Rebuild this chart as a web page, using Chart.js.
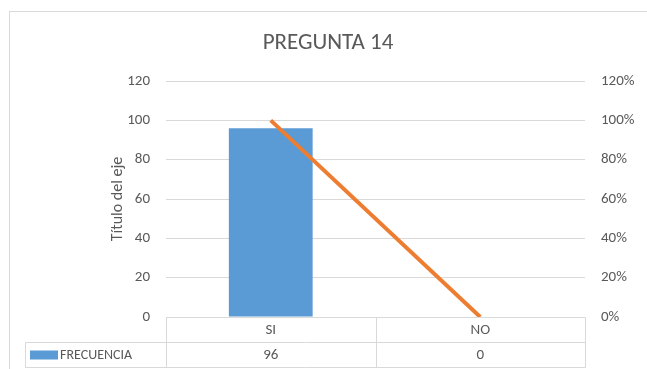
<!DOCTYPE html>
<html>
<head>
<meta charset="utf-8">
<script src="https://cdn.jsdelivr.net/npm/chart.js@4"></script>
<style>
  html, body { margin: 0; padding: 0; background: #fff; }
  #wrap { width: 647px; height: 369px; }
</style>
</head>
<body>
<div id="wrap"><canvas id="myChart"></canvas></div>
<script>
const categories = ['SI', 'NO'];
const frecuencia = [96, 0];
const porcentaje = [100, 0];
const seriesName = 'FRECUENCIA';
const chartTitle = 'PREGUNTA 14';
const axisTitle = 'Título del eje';
const leftMax = 120;
const rightMax = 120;
const tickStep = 20;

const fontFamily = 'Carlito, Lato, sans-serif';
const textColor = '#595959';
const lineColor = '#d9d9d9';
const barColor = '#5b9bd5';
const pctColor = '#ed7d31';

// marco gris del grafico
const chartFrame = {
    id: 'chartFrame',
    beforeDraw(chart) {
        const { ctx } = chart;
        ctx.save();
        ctx.strokeStyle = lineColor;
        ctx.lineWidth = 1;
        ctx.strokeRect(9.5, 11.5, chart.width, chart.height);
        ctx.restore();
    }
};

// tabla de datos bajo el eje x
const dataTable = {
    id: 'dataTable',
    afterDraw(chart) {
        const { ctx, chartArea, scales } = chart;
        const x = scales.x;
        const rowH = 25;
        const top = Math.round(chartArea.bottom) + 0.5;
        const mid = top + rowH;
        const bottom = mid + rowH;
        const tableLeft = 25.5;
        const half = (x.getPixelForValue(1) - x.getPixelForValue(0)) / 2;
        const edges = categories.map((c, i) => Math.round(x.getPixelForValue(i) - half) + 0.5);
        edges.push(Math.round(x.getPixelForValue(categories.length - 1) + half) + 0.5);
        const first = edges[0];
        const last = edges[edges.length - 1];

        ctx.save();
        ctx.strokeStyle = lineColor;
        ctx.lineWidth = 1;
        ctx.beginPath();
        ctx.moveTo(first, top); ctx.lineTo(last, top);
        ctx.moveTo(tableLeft, mid); ctx.lineTo(last, mid);
        ctx.moveTo(tableLeft, bottom); ctx.lineTo(last, bottom);
        ctx.moveTo(tableLeft, mid); ctx.lineTo(tableLeft, bottom);
        edges.forEach((e) => { ctx.moveTo(e, top); ctx.lineTo(e, bottom); });
        ctx.stroke();

        ctx.fillStyle = textColor;
        ctx.font = `15px ${fontFamily}`;
        ctx.textAlign = 'center';
        ctx.textBaseline = 'middle';
        categories.forEach((c, i) => {
            const cx = x.getPixelForValue(i);
            ctx.fillText(c, cx, top + rowH / 2);
            ctx.fillText(String(frecuencia[i]), cx, mid + rowH / 2);
        });

        ctx.fillStyle = chart.data.datasets[1].backgroundColor;
        ctx.fillRect(30, mid + 8, 28, 9);
        ctx.fillStyle = textColor;
        ctx.textAlign = 'left';
        ctx.font = `14px ${fontFamily}`;
        ctx.fillText(seriesName, 60, mid + rowH / 2);
        ctx.restore();
    }
};

const data = {
    labels: categories,
    datasets: [
        {
            type: 'line',
            label: 'PORCENTAJE',
            data: porcentaje,
            yAxisID: 'yPct',
            borderColor: pctColor,
            borderWidth: 4,
            pointRadius: 0,
            fill: false,
            tension: 0,
            order: 0
        },
        {
            type: 'bar',
            label: seriesName,
            data: frecuencia,
            yAxisID: 'y',
            backgroundColor: barColor,
            categoryPercentage: 1,
            barPercentage: 0.4,
            order: 1
        }
    ]
};

const config = {
    type: 'bar',
    data: data,
    plugins: [chartFrame, dataTable],
    options: {
        responsive: true,
        maintainAspectRatio: false,
        animation: false,
        layout: { padding: { left: 9, bottom: 52 } },
        plugins: {
            legend: { display: false },
            tooltip: { enabled: false },
            title: {
                display: true,
                text: chartTitle,
                color: textColor,
                font: { family: fontFamily, size: 23, weight: 'normal', lineHeight: 1.2 },
                padding: { top: 29, bottom: 24.4 }
            }
        },
        scales: {
            x: {
                display: false,
                offset: true
            },
            y: {
                position: 'left',
                min: 0,
                max: leftMax,
                ticks: {
                    stepSize: tickStep,
                    color: textColor,
                    padding: 16,
                    font: { family: fontFamily, size: 15 }
                },
                grid: { color: lineColor, drawTicks: false },
                border: { display: false },
                title: {
                    display: true,
                    text: axisTitle,
                    color: textColor,
                    font: { family: fontFamily, size: 16, lineHeight: 1.2 },
                    padding: { top: 99 }
                },
                afterFit: (scale) => { scale.width = 157; }
            },
            yPct: {
                position: 'right',
                min: 0,
                max: rightMax,
                ticks: {
                    stepSize: tickStep,
                    color: textColor,
                    padding: 16,
                    font: { family: fontFamily, size: 15 },
                    callback: (v) => `${v}%`
                },
                grid: { display: false, drawTicks: false },
                border: { display: false },
                afterFit: (scale) => { scale.width = 62; }
            }
        }
    }
};

new Chart(document.getElementById('myChart'), config);
</script>
</body>
</html>
